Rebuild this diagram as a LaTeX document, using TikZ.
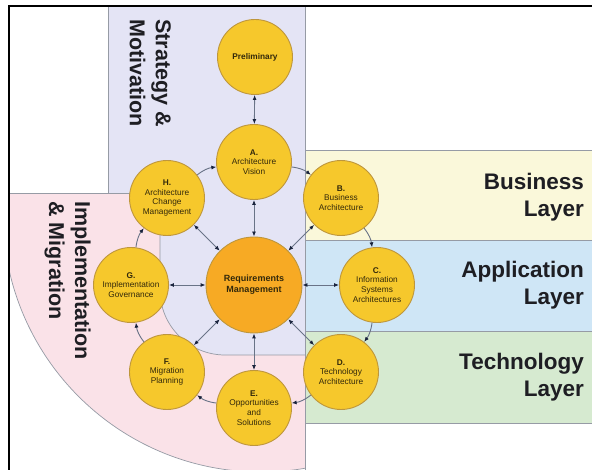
\documentclass[tikz,border=0pt]{standalone}
\usepackage{fontspec}
\setmainfont{Liberation Sans}
\usetikzlibrary{arrows.meta}
\definecolor{lav}{RGB}{228,228,245}
\definecolor{pinkreg}{RGB}{250,226,232}
\definecolor{bizc}{RGB}{250,248,218}
\definecolor{appc}{RGB}{207,230,246}
\definecolor{tecc}{RGB}{214,234,208}
\definecolor{bordc}{RGB}{150,155,165}
\definecolor{ringfill}{RGB}{246,200,44}
\definecolor{ringdraw}{RGB}{190,150,60}
\definecolor{reqfill}{RGB}{247,170,36}
\definecolor{linec}{RGB}{105,115,135}
\definecolor{tipc}{RGB}{25,35,60}
\definecolor{lbltxt}{RGB}{30,30,35}
\definecolor{ctxt}{RGB}{50,40,10}
\tikzset{
  phasenode/.style={circle, draw=ringdraw, fill=ringfill, line width=0.9pt, minimum size=75pt, inner sep=0pt, align=center, text=ctxt, font=\fontsize{8.3}{9.8}\selectfont},
  reqnode/.style={phasenode, minimum size=96pt, fill=reqfill, font=\bfseries\fontsize{9}{11}\selectfont},
  arrowline/.style={draw=linec, line width=0.9pt, -{Latex[length=5pt,width=4pt,color=tipc]}},
  biline/.style={draw=linec, line width=0.9pt, {Latex[length=5pt,width=4pt,color=tipc]}-{Latex[length=5pt,width=4pt,color=tipc]}},
  bordr/.style={draw=bordc, line width=0.7pt},
  layerlbl/.style={font=\bfseries\fontsize{22.5}{27}\selectfont, align=right, anchor=east, text=lbltxt, inner sep=0pt},
  sidelbl/.style={font=\bfseries\fontsize{21.5}{26}\selectfont, align=left, rotate=-90, anchor=north west, text=lbltxt, inner sep=0pt}
}
\begin{document}
\begin{tikzpicture}[x=1pt,y=-1pt]
\useasboundingbox (0,0) rectangle (592,470);
\fill[white] (0,0) rectangle (592,470);
% regions
\fill[lav] (108,7) rectangle (305,193);
\begin{scope}
  \clip (261,214) circle[radius=258];
  \fill[pinkreg] (10,193) rectangle (305,470);
\end{scope}
\fill[lav] (160,193) -- (160,290) .. controls (160,325.9) and (189.1,355) .. (225,355) -- (305,355) -- (305,193) -- cycle;
\fill[bizc] (305,150) rectangle (592,240);
\fill[appc] (305,240) rectangle (592,331);
\fill[tecc] (305,331) rectangle (592,423);
% borders
\draw[bordr] (108,7) -- (108,193);
\draw[bordr] (10,193) -- (160,193);
\draw[bordr] (160,193) -- (160,290) .. controls (160,325.9) and (189.1,355) .. (225,355) -- (305,355);
\draw[bordr] (305,7) -- (305,470);
\draw[bordr] (305,150) -- (592,150);
\draw[bordr] (305,240) -- (592,240);
\draw[bordr] (305,331) -- (592,331);
\draw[bordr] (305,423) -- (592,423);
\begin{scope}
  \clip (10,193) rectangle (305,470);
  \draw[bordr] (261,214) circle[radius=258];
\end{scope}
% frame
\draw[black, line width=1.5pt] (9,470) -- (9,6) -- (592,6);
% labels
\node[sidelbl] (strat) at (171,19) {Strategy \&\\Motivation};
\node[sidelbl] (impl) at (91,201) {Implementation\\\& Migration};
\node[layerlbl] (biz) at (584,197) {Business\\Layer};
\node[layerlbl] (app) at (584,285) {Application\\Layer};
\node[layerlbl] (tec) at (584,377) {Technology\\Layer};
% nodes
\node[reqnode] (R) at (254,285) {Requirements\\Management};
\node[phasenode, font=\bfseries\fontsize{8.3}{9.8}\selectfont] (P) at (255,57) {Preliminary};
\node[phasenode] (A) at (254,162) {\textbf{A.}\\Architecture\\Vision};
\node[phasenode] (B) at (341,198) {\textbf{B.}\\Business\\Architecture};
\node[phasenode] (C) at (377,285) {\textbf{C.}\\Information\\Systems\\Architectures};
\node[phasenode] (D) at (341,372) {\textbf{D.}\\Technology\\Architecture};
\node[phasenode] (E) at (254,408) {\textbf{E.}\\Opportunities\\and\\Solutions};
\node[phasenode] (F) at (167,372) {\textbf{F.}\\Migration\\Planning};
\node[phasenode] (G) at (131,285) {\textbf{G.}\\Implementation\\Governance};
\node[phasenode] (H) at (167,198) {\textbf{H.}\\Architecture\\Change\\Management};
% connectors
\draw[biline] (P) -- (A);
\draw[biline] (R) -- (A);
\draw[biline] (R) -- (B);
\draw[biline] (R) -- (C);
\draw[biline] (R) -- (D);
\draw[biline] (R) -- (E);
\draw[biline] (R) -- (F);
\draw[biline] (R) -- (G);
\draw[biline] (R) -- (H);
\draw[arrowline] (A) to[bend left=15] (B);
\draw[arrowline] (B) to[bend left=15] (C);
\draw[arrowline] (C) to[bend left=15] (D);
\draw[arrowline] (D) to[bend left=15] (E);
\draw[arrowline] (E) to[bend left=15] (F);
\draw[arrowline] (F) to[bend left=15] (G);
\draw[arrowline] (G) to[bend left=15] (H);
\draw[arrowline] (H) to[bend left=15] (A);
\end{tikzpicture}
\end{document}
